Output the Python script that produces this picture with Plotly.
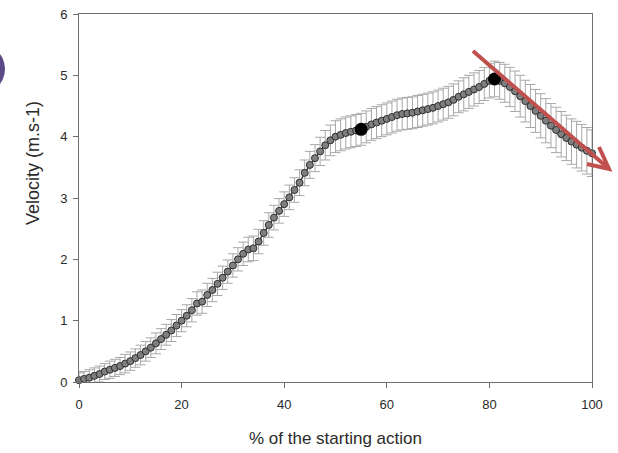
import plotly.graph_objects as go

# Percentage of the starting action (0..100 %, one sample per percent)
pct = list(range(0, 101))

# Mean velocity (m/s) at each percent of the action
velocity = [
    0.03, 0.05, 0.07, 0.10, 0.13, 0.17, 0.20, 0.23, 0.26, 0.30,
    0.34, 0.39, 0.44, 0.50, 0.56, 0.63, 0.70, 0.77, 0.84, 0.92,
    1.00, 1.08, 1.17, 1.28, 1.31, 1.42, 1.50, 1.60, 1.70, 1.80,
    1.90, 2.00, 2.09, 2.16, 2.18, 2.29, 2.43, 2.56, 2.68, 2.79,
    2.90, 3.01, 3.13, 3.25, 3.41, 3.54, 3.65, 3.76, 3.86, 3.94,
    4.00, 4.03, 4.06, 4.08, 4.10, 4.12, 4.16, 4.20, 4.23, 4.26,
    4.29, 4.32, 4.35, 4.37, 4.38, 4.39, 4.41, 4.43, 4.45, 4.47,
    4.50, 4.53, 4.56, 4.60, 4.65, 4.69, 4.73, 4.77, 4.81, 4.86,
    4.91, 4.94, 4.91, 4.87, 4.81, 4.74, 4.66, 4.58, 4.50, 4.42,
    4.34, 4.26, 4.18, 4.11, 4.04, 3.98, 3.92, 3.87, 3.82, 3.77,
    3.73,
]

# Standard deviation of velocity (m/s)
velocity_sd = [
    0.12, 0.12, 0.13, 0.13, 0.13, 0.13, 0.14, 0.14, 0.14, 0.15,
    0.15, 0.15, 0.16, 0.16, 0.16, 0.17, 0.17, 0.17, 0.18, 0.18,
    0.18, 0.18, 0.19, 0.19, 0.19, 0.19, 0.19, 0.19, 0.19, 0.19,
    0.19, 0.19, 0.19, 0.20, 0.20, 0.20, 0.20, 0.20, 0.20, 0.20,
    0.20, 0.20, 0.20, 0.21, 0.21, 0.22, 0.22, 0.23, 0.24, 0.25,
    0.26, 0.26, 0.26, 0.26, 0.26, 0.26, 0.26, 0.26, 0.26, 0.26,
    0.26, 0.26, 0.26, 0.26, 0.26, 0.26, 0.26, 0.26, 0.26, 0.26,
    0.26, 0.26, 0.26, 0.26, 0.26, 0.27, 0.27, 0.27, 0.27, 0.27,
    0.28, 0.29, 0.30, 0.31, 0.32, 0.33, 0.34, 0.34, 0.35, 0.35,
    0.36, 0.36, 0.36, 0.37, 0.37, 0.37, 0.37, 0.38, 0.38, 0.38,
    0.38,
]

# Key instants of the action highlighted on the curve (%)
key_pct = [55, 81]
key_velocity = [velocity[pct.index(p)] for p in key_pct]

x_ticks = [0, 20, 40, 60, 80, 100]
y_ticks = [0, 1, 2, 3, 4, 5, 6]

W, H = 618, 453
L, R, T, B = 79, 26, 14, 71
PW, PH = W - L - R, H - T - B


def xp(px):
    return (px - L) / PW


def yp(py):
    return (H - B - py) / PH


FONT = "Liberation Sans, Arial, sans-serif"
TEXT = "#2a2a2a"

fig = go.Figure()

fig.add_trace(go.Scatter(
    x=pct, y=velocity,
    mode="lines+markers",
    line=dict(color="#3a3a3a", width=1.5),
    marker=dict(size=7, color="#7f7f7f", line=dict(color="#2e2e2e", width=1)),
    error_y=dict(type="data", array=velocity_sd, visible=True,
                 color="#a8a8a8", thickness=1, width=5),
    cliponaxis=False,
    showlegend=False,
))

fig.add_trace(go.Scatter(
    x=key_pct, y=key_velocity,
    mode="markers",
    marker=dict(size=13, color="#000000"),
    cliponaxis=False,
    showlegend=False,
))

axis_common = dict(
    showgrid=False, zeroline=False, automargin=False,
    showline=True, linecolor="#6e6e6e", linewidth=1, mirror=True,
    ticks="outside", ticklen=5, tickcolor="#6e6e6e", tickwidth=1,
    tickfont=dict(family=FONT, size=13, color=TEXT),
)

fig.update_xaxes(range=[0, 100], tickvals=x_ticks, ticklabelstandoff=5,
                 **axis_common)
fig.update_yaxes(range=[0, 6], tickvals=y_ticks, ticklabelstandoff=3,
                 **axis_common)

# Axis titles
fig.add_annotation(
    text="% of the starting action",
    x=xp(335), y=yp(438), xref="paper", yref="paper",
    showarrow=False, xanchor="center", yanchor="middle",
    font=dict(family=FONT, size=17, color=TEXT),
)
fig.add_annotation(
    text="Velocity (m.s-1)", textangle=-90,
    x=xp(33), y=yp(163), xref="paper", yref="paper",
    showarrow=False, xanchor="center", yanchor="middle",
    font=dict(family=FONT, size=18, color=TEXT),
)

# Red trend arrow over the decelerating phase
RED = "rgb(192,80,77)"
x0, y0 = 473, 51
x1, y1 = 608, 168
arm1 = (599, 147)
arm2 = (587, 164)
shapes = [
    dict(type="path", xref="paper", yref="paper",
         path=f"M {xp(x0)},{yp(y0)} L {xp(x1)},{yp(y1)}",
         line=dict(color=RED, width=4)),
    dict(type="path", xref="paper", yref="paper",
         path=(f"M {xp(arm1[0])},{yp(arm1[1])} L {xp(x1 + 1)},{yp(y1 + 1)} "
               f"L {xp(arm2[0])},{yp(arm2[1])}"),
         line=dict(color=RED, width=4)),
    # decorative purple disc at the left edge
    dict(type="circle", xref="paper", yref="paper",
         x0=xp(-45), x1=xp(5), y0=yp(94), y1=yp(44),
         fillcolor="#5b4a88", line=dict(width=0)),
]

fig.update_layout(
    width=W, height=H,
    margin=dict(l=L, r=R, t=T, b=B),
    paper_bgcolor="white", plot_bgcolor="white",
    shapes=shapes,
)

fig.write_html("out.html")
